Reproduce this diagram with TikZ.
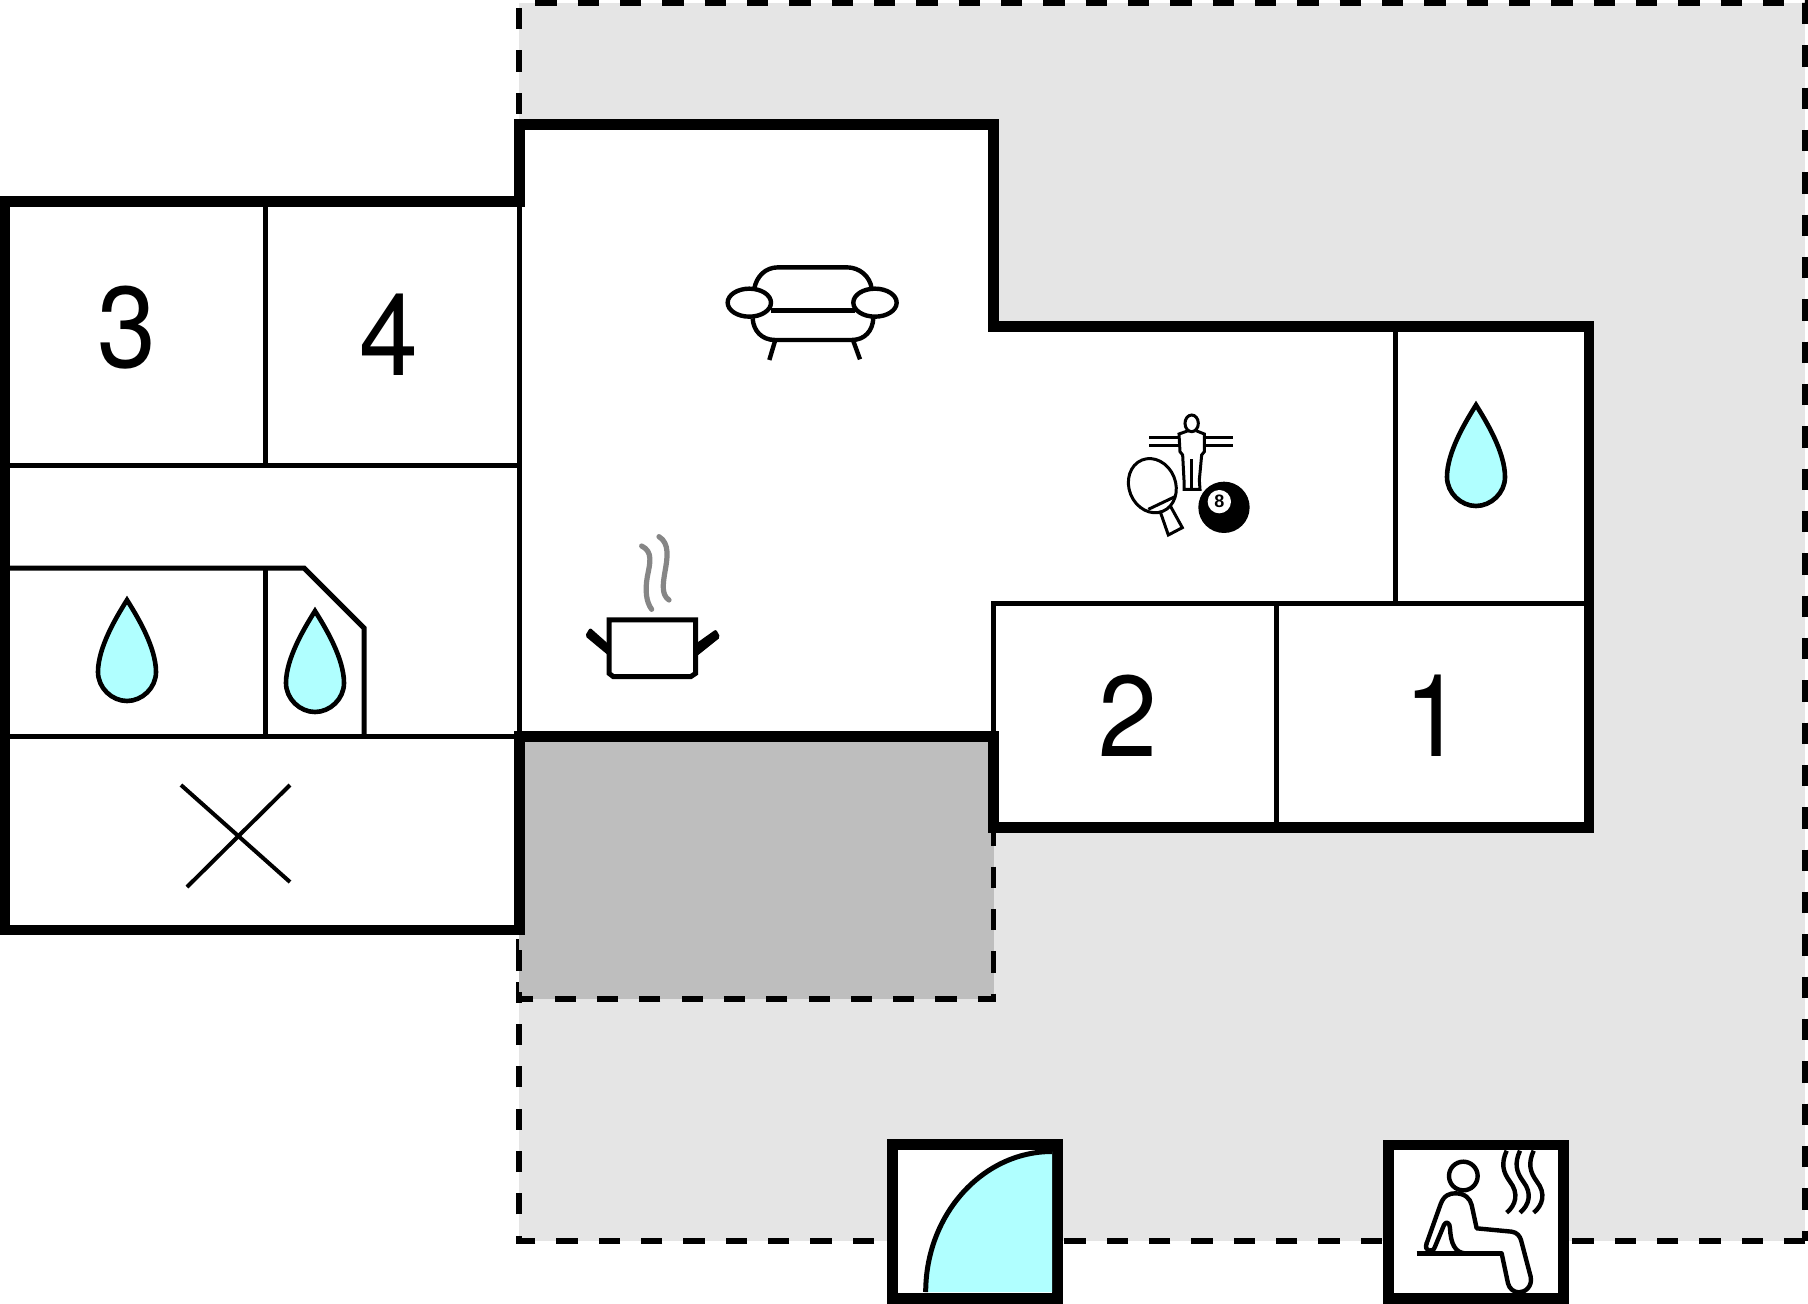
\documentclass[tikz,border=0pt]{standalone}
\usepackage{fontspec}
\setmainfont{Liberation Sans}
\newfontfamily\roomfont[FakeStretch=0.92]{TeX Gyre Heros}
\definecolor{plotgray}{HTML}{E5E5E5}
\definecolor{roofgray}{HTML}{BEBEBE}
\definecolor{watercyan}{HTML}{B0FFFF}
\definecolor{steamgray}{HTML}{868686}
\tikzset{
  thickwall/.style={line width=10.6pt,miter limit=10},
  thinwall/.style={line width=5pt},
  plotline/.style={line width=5.8pt,dash pattern=on 21.3pt off 21.03pt},
  iconline/.style={line width=4.4pt},
  roundline/.style={line width=4.4pt,line cap=round,line join=round},
  zoomed/.style={x=.3333pt,y=-.3333pt},
  roomno/.style={inner sep=0pt,font=\roomfont\fontsize{115}{115}\selectfont},
  droplet/.pic={
    \draw[fill=watercyan,line width=4.6pt,miter limit=10] (0,0)
      .. controls (-10,16) and (-29,47) .. (-29,72)
      .. controls (-29,88) and (-15,101) .. (0,101)
      .. controls (15,101) and (29,88) .. (29,72)
      .. controls (29,47) and (10,16) .. (0,0) -- cycle;
  }
}
\begin{document}
\begin{tikzpicture}[x=1pt,y=-1pt]
  \useasboundingbox (0,0) rectangle (1808,1304);
  % plot
  \fill[plotgray] (519.3,3) rectangle (1805.3,1240.7);
  \draw[plotline] (1805.3,1240.7) -- (519.3,1240.7) -- (519.3,3) -- (1805.3,3) -- (1805.3,1240.7);
  % roofed part
  \fill[roofgray] (519.3,736.3) rectangle (993.5,999.3);
  \draw[plotline,dash phase=38.93pt] (993.5,736.3) -- (993.5,999.3) -- (519.3,999.3) -- (519.3,736.3);
  % house
  \fill[white] (5,201.3) -- (519.3,201.3) -- (519.3,124.3) -- (993.5,124.3) -- (993.5,326.5)
    -- (1589,326.5) -- (1589,827.5) -- (993.5,827.5) -- (993.5,736.3) -- (519.3,736.3)
    -- (519.3,930) -- (5,930) -- cycle;
  \draw[thinwall] (265,201) -- (265,465);
  \draw[thinwall] (5,465) -- (519.3,465);
  \draw[thinwall] (519.3,201) -- (519.3,736);
  \draw[thinwall] (5,568) -- (304,568) -- (364,628) -- (364,736);
  \draw[thinwall] (265,568) -- (265,736);
  \draw[thinwall] (5,736) -- (519.3,736);
  \draw[thinwall] (993.5,736) -- (993.5,603.3) -- (1589,603.3);
  \draw[thinwall] (1276.7,603.3) -- (1276.7,827);
  \draw[thinwall] (1395,326.5) -- (1395,603.3);
  \draw[line width=4pt] (181,785) -- (290,882);
  \draw[line width=4pt] (290,785) -- (187,887);
  \draw[thickwall] (5,201.3) -- (519.3,201.3) -- (519.3,124.3) -- (993.5,124.3) -- (993.5,326.5)
    -- (1589,326.5) -- (1589,827.5) -- (993.5,827.5) -- (993.5,736.3) -- (519.3,736.3)
    -- (519.3,930) -- (5,930) -- cycle;
  % room numbers
  \node[roomno] (bedthree) at (127.4,327.5) {3};
  \node[roomno] (bedfour) at (388.6,335) {4};
  \node[roomno] (bedtwo) at (1128,715.5) {2};
  \node[roomno] (bedone) at (1434,715.5) {1};
  % bathrooms
  \pic (bathone) at (127,600) {droplet};
  \pic (bathtwo) at (315,611) {droplet};
  \pic (baththree) at (1476,405) {droplet};
  % sofa
  \begin{scope}[shift={(700,240)},zoomed]
    \draw[iconline] (163,145) .. controls (170,110) and (195,82) .. (235,82) -- (440,82)
      .. controls (480,82) and (510,110) .. (515,145);
    \draw[iconline] (212,212) -- (465,212);
    \draw[iconline] (158,235) .. controls (160,272) and (185,300) .. (225,300) -- (455,300)
      .. controls (495,300) and (518,272) .. (520,235);
    \draw[iconline,fill=white] (148,188) ellipse[x radius=65,y radius=42];
    \draw[iconline,fill=white] (525,188) ellipse[x radius=65,y radius=42];
    \draw[iconline] (225,303) -- (208,360);
    \draw[iconline] (460,303) -- (480,358);
  \end{scope}
  % kitchen
  \begin{scope}[shift={(570,520)},zoomed]
    \draw[roundline,line width=5.2pt,color=steamgray] (215,78) .. controls (250,95) and (240,130) .. (232,170)
      .. controls (225,210) and (228,245) .. (245,268);
    \draw[roundline,line width=5.2pt,color=steamgray] (267,50) .. controls (300,70) and (292,115) .. (285,155)
      .. controls (278,195) and (275,225) .. (297,240);
    \draw[line width=5pt] (117,300) -- (377,300) -- (377,460) -- (362,470) -- (130,470) -- (117,460) -- cycle;
    \fill[rounded corners=2pt] (60,323) -- (122,378) -- (122,412) -- (45,348) -- cycle;
    \fill[rounded corners=2pt] (438,328) -- (376,372) -- (376,412) -- (451,352) -- cycle;
  \end{scope}
  % games
  \begin{scope}[shift={(1110,400)},zoomed]
    \draw[line width=3pt] (245,70) ellipse[x radius=20,y radius=25];
    \draw[line width=3pt] (235,92) -- (207,102) -- (210,155) -- (218,165) -- (222,240) -- (222,268)
      -- (270,268) -- (268,240) -- (275,165) -- (283,155) -- (283,102) -- (258,92);
    \draw[line width=3pt] (245,178) -- (245,266);
    \draw[line width=3pt] (118,113) -- (207,113);
    \draw[line width=3pt] (118,135) -- (208,135);
    \draw[line width=3pt] (283,113) -- (368,113);
    \draw[line width=3pt] (281,135) -- (368,135);
    \draw[line width=3pt] (127,257) ellipse[x radius=70,y radius=83,rotate=22];
    \draw[line width=3pt] (115,328) -- (195,290);
    \draw[line width=3pt] (150,333) -- (175,405) -- (217,383) -- (180,316);
    \fill (342,322) circle[radius=77];
    \fill[white] (328,305) circle[radius=35];
    \node[inner sep=0pt,font=\fontsize{18}{18}\selectfont\bfseries] (eightball) at (328,305) {8};
  \end{scope}
  % door
  \draw[thickwall,fill=white] (892.3,1144.7) rectangle (1057.5,1298.7);
  \fill[watercyan] (925.7,1292) .. controls (925.7,1214.7) and (982.4,1151.5) .. (1052,1151.5) -- (1052,1292) -- cycle;
  \draw[line width=5pt] (925.7,1292) .. controls (925.7,1214.7) and (982.4,1151.5) .. (1052,1151.5);
  % sauna
  \draw[thickwall,fill=white] (1388.7,1145) rectangle (1563.7,1298.6);
  \begin{scope}[shift={(1370,1130)},zoomed]
    \draw[roundline] (280,138) circle[radius=43];
    \draw[roundline] (170,340) -- (212,222) .. controls (222,195) and (240,190) .. (255,190)
      .. controls (285,190) and (300,205) .. (305,225) -- (320,295) -- (425,305)
      .. controls (442,307) and (450,320) .. (453,330) -- (482,440)
      .. controls (488,470) and (465,487) .. (447,487) .. controls (430,487) and (418,475) .. (414,460) -- (395,370);
    \draw[roundline] (170,340) .. controls (160,365) and (190,370) .. (195,350) -- (222,285)
      .. controls (228,272) and (240,278) .. (240,295) .. controls (242,340) and (255,368) .. (285,370);
    \draw[line width=4.4pt] (140,370) -- (395,370);
    \foreach \steamx in {0,40,81}{
      \draw[line width=4.4pt] (410+\steamx,62) .. controls (393+\steamx,100) and (398+\steamx,125) .. (420+\steamx,155)
        .. controls (447+\steamx,190) and (438+\steamx,225) .. (410+\steamx,248);
    }
  \end{scope}
\end{tikzpicture}
\end{document}
